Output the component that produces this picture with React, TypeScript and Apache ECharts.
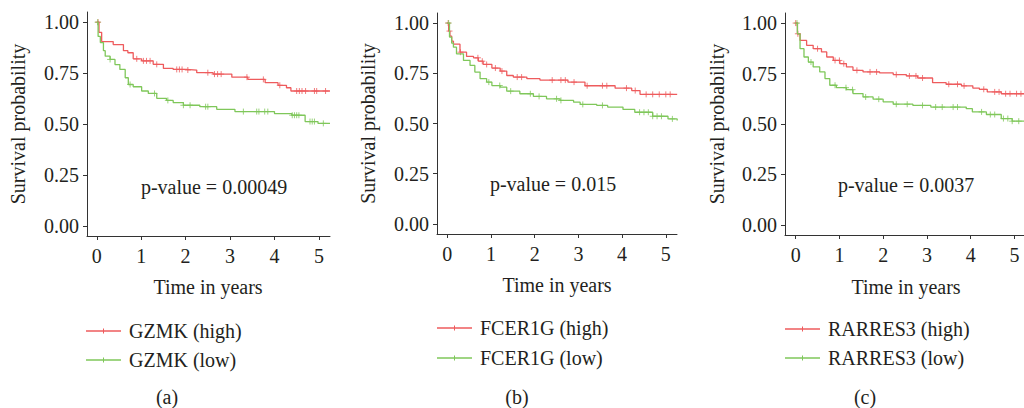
import React, { useEffect, useRef } from "react";
import * as echarts from "echarts";

// ---- Data ----
const panelLabels = ["(a)", "(b)", "(c)"];
const genes = ["GZMK", "FCER1G", "RARRES3"];
const pValues = ["p-value = 0.00049", "p-value = 0.015", "p-value = 0.0037"];
const xTicks = [0, 1, 2, 3, 4, 5];
const yTicks = [0, 0.25, 0.5, 0.75, 1];

// Panel (a) GZMK
const aHighT = [0, 0.05, 0.11, 0.37, 0.6, 0.7, 0.82, 1.01, 1.27, 1.5, 1.72, 2.02, 2.25, 2.62, 3.04, 3.4, 3.79, 4.08, 4.27, 4.37, 5.25];
const aHighS = [1.0, 0.95, 0.905, 0.89, 0.86, 0.85, 0.82, 0.81, 0.793, 0.773, 0.768, 0.765, 0.752, 0.745, 0.73, 0.719, 0.703, 0.69, 0.678, 0.662, 0.662];
const aLowT = [0, 0.03, 0.08, 0.15, 0.19, 0.3, 0.41, 0.52, 0.64, 0.71, 0.82, 1.01, 1.16, 1.35, 1.57, 1.72, 1.95, 2.32, 2.7, 3.11, 4.0, 4.39, 4.69, 4.98, 5.25];
const aLowS = [1.0, 0.93, 0.9, 0.86, 0.833, 0.817, 0.792, 0.768, 0.727, 0.694, 0.683, 0.662, 0.65, 0.626, 0.616, 0.605, 0.592, 0.585, 0.572, 0.561, 0.551, 0.543, 0.512, 0.503, 0.503];
const aHighCens = [0.03, 0.9, 1.05, 1.12, 1.2, 1.35, 1.8, 1.86, 1.92, 2.05, 2.5, 2.65, 2.72, 2.8, 3.38, 3.75, 4.12, 4.5, 4.56, 4.62, 4.7, 4.9, 4.95, 5.15];
const aLowCens = [0.02, 0.3, 0.75, 1.3, 1.6, 1.95, 2.1, 2.45, 2.5, 3.3, 3.6, 3.65, 3.78, 3.85, 4.4, 4.45, 4.5, 4.55, 4.8, 4.85, 4.9, 5.1];

// Panel (b) FCER1G
const bHighT = [0, 0.03, 0.06, 0.1, 0.14, 0.29, 0.44, 0.6, 0.71, 0.82, 1.02, 1.21, 1.36, 1.51, 1.82, 2.12, 2.76, 3.15, 3.84, 4.22, 4.41, 5.26];
const bHighS = [1.0, 0.96, 0.935, 0.91, 0.895, 0.855, 0.834, 0.827, 0.81, 0.794, 0.776, 0.761, 0.739, 0.731, 0.723, 0.716, 0.706, 0.688, 0.676, 0.664, 0.645, 0.645];
const bLowT = [0, 0.05, 0.1, 0.14, 0.21, 0.37, 0.52, 0.63, 0.75, 0.9, 1.02, 1.21, 1.36, 1.66, 1.97, 2.27, 2.58, 2.89, 3.04, 3.42, 3.67, 4.02, 4.29, 4.7, 5.05, 5.26];
const bLowS = [1.0, 0.93, 0.9, 0.88, 0.847, 0.814, 0.789, 0.756, 0.723, 0.706, 0.689, 0.681, 0.661, 0.648, 0.635, 0.623, 0.615, 0.606, 0.595, 0.59, 0.582, 0.57, 0.556, 0.536, 0.523, 0.515];
const bHighCens = [0.02, 0.05, 0.3, 0.7, 0.8, 0.9, 1.1, 1.25, 1.6, 1.7, 2.4, 2.6, 2.7, 2.9, 3.2, 3.55, 3.65, 4.1, 4.3, 4.55, 4.7, 4.85, 5.0, 5.1];
const bLowCens = [0.03, 0.95, 1.2, 1.45, 1.9, 2.1, 2.5, 2.6, 3.1, 3.55, 4.4, 4.5, 4.6, 4.7, 4.8, 4.9, 5.15];

// Panel (c) RARRES3
const cHighT = [0, 0.04, 0.1, 0.25, 0.4, 0.59, 0.71, 0.86, 1.01, 1.16, 1.31, 1.54, 1.92, 2.23, 2.53, 2.79, 3.13, 3.44, 3.79, 4.05, 4.2, 4.38, 4.7, 5.22];
const cHighS = [1.0, 0.947, 0.914, 0.89, 0.873, 0.857, 0.832, 0.815, 0.799, 0.783, 0.766, 0.758, 0.753, 0.745, 0.738, 0.728, 0.705, 0.697, 0.689, 0.678, 0.672, 0.659, 0.65, 0.648];
const cLowT = [0, 0.04, 0.1, 0.19, 0.29, 0.4, 0.55, 0.67, 0.78, 0.93, 1.16, 1.31, 1.54, 1.77, 2.0, 2.23, 2.68, 3.09, 3.9, 4.04, 4.36, 4.7, 4.95, 5.22];
const cLowS = [1.0, 0.947, 0.873, 0.832, 0.807, 0.783, 0.758, 0.725, 0.692, 0.68, 0.67, 0.651, 0.634, 0.623, 0.61, 0.598, 0.592, 0.584, 0.576, 0.56, 0.547, 0.527, 0.514, 0.514];
const cHighCens = [0.0, 0.05, 0.5, 0.9, 1.0, 1.1, 1.4, 1.7, 1.85, 2.3, 2.6, 2.75, 2.9, 3.5, 3.7, 3.85, 4.3, 4.55, 4.65, 4.8, 4.9, 5.05, 5.15];
const cLowCens = [0.03, 0.35, 0.9, 1.15, 1.3, 1.6, 1.9, 2.3, 2.55, 2.9, 3.2, 3.35, 3.6, 3.7, 4.25, 4.45, 4.55, 4.75, 4.85, 4.95, 5.1];

const RED = "#EE5B5D";
const GREEN = "#7FC75A";
const TEXT = "#231F20";
const FONT = "Liberation Serif";

// ---- Layout ----
const grids = [
  { left: 87, top: 12, width: 243, height: 224, xMin: -0.22, xMax: 5.25 },
  { left: 437, top: 13, width: 240, height: 221, xMin: -0.236, xMax: 5.256 },
  { left: 785, top: 13, width: 240, height: 222, xMin: -0.244, xMax: 5.22 },
];
const yTitleX = [17.5, 368, 717];
const xTitlePos = [[208, 287], [557, 285], [906, 287]];
const pPos = [[214, 187], [553, 184], [906, 185]];
const legendX = [86, 437, 785];
const legendY = [[331, 360], [328, 358], [329, 358]];
const capPos = [[167, 397], [517, 397], [865, 397]];

const curves = [
  { hT: aHighT, hS: aHighS, lT: aLowT, lS: aLowS, hC: aHighCens, lC: aLowCens },
  { hT: bHighT, hS: bHighS, lT: bLowT, lS: bLowS, hC: bHighCens, lC: bLowCens },
  { hT: cHighT, hS: cHighS, lT: cLowT, lS: cLowS, hC: cHighCens, lC: cLowCens },
];

function stepAt(ts: number[], ss: number[], t: number): number {
  let v = ss[0];
  for (let i = 0; i < ts.length; i++) {
    if (ts[i] <= t) v = ss[i];
    else break;
  }
  return v;
}

const PLUS = "path://M0,4L8,4M4,0L4,8";

export default function App() {
  const ref = useRef<HTMLDivElement>(null);
  useEffect(() => {
    if (!ref.current) return;
    const chart = echarts.init(ref.current, undefined, { renderer: "svg" });
    const series: any[] = [];
    const xAxis: any[] = [];
    const yAxis: any[] = [];
    const graphic: any[] = [];

    grids.forEach((g, i) => {
      xAxis.push({
        type: "value",
        gridIndex: i,
        min: g.xMin,
        max: g.xMax,
        splitLine: { show: false },
        axisLine: { show: true, onZero: false, lineStyle: { color: "#333", width: 1 } },
        axisTick: { show: true, customValues: xTicks, length: 4, lineStyle: { color: "#333" } },
        axisLabel: { customValues: xTicks, fontSize: 20, color: TEXT, fontFamily: FONT, margin: 10 },
      });
      yAxis.push({
        type: "value",
        gridIndex: i,
        min: -0.05,
        max: 1.05,
        splitLine: { show: false },
        axisLine: { show: true, onZero: false, lineStyle: { color: "#333", width: 1 } },
        axisTick: { show: true, customValues: yTicks, length: 4, lineStyle: { color: "#333" } },
        axisLabel: {
          customValues: yTicks,
          fontSize: 20,
          color: TEXT,
          fontFamily: FONT,
          margin: 8,
          formatter: (v: number) => v.toFixed(2),
        },
      });
      const c = curves[i];
      const mk = (ts: number[], ss: number[], color: string, name: string) => ({
        type: "line",
        name,
        xAxisIndex: i,
        yAxisIndex: i,
        step: "end",
        showSymbol: false,
        symbol: "none",
        lineStyle: { color, width: 1.3 },
        data: ts.map((t, k) => [t, ss[k]]),
        silent: true,
      });
      const cens = (cs: number[], ts: number[], ss: number[], color: string) => ({
        type: "scatter",
        xAxisIndex: i,
        yAxisIndex: i,
        symbol: PLUS,
        symbolSize: 6,
        itemStyle: { color: "none", borderColor: color, borderWidth: 1 },
        data: cs.map((t) => [t, stepAt(ts, ss, t)]),
        silent: true,
      });
      series.push(mk(c.hT, c.hS, RED, genes[i] + " (high)"));
      series.push(mk(c.lT, c.lS, GREEN, genes[i] + " (low)"));
      series.push(cens(c.hC, c.hT, c.hS, RED));
      series.push(cens(c.lC, c.lT, c.lS, GREEN));

      // Titles
      graphic.push({
        type: "text",
        x: yTitleX[i],
        y: g.top + g.height / 2,
        rotation: Math.PI / 2,
        style: { text: "Survival probability", font: `20px "${FONT}"`, fill: TEXT, align: "center", verticalAlign: "middle" },
      });
      graphic.push({
        type: "text",
        x: xTitlePos[i][0],
        y: xTitlePos[i][1],
        style: { text: "Time in years", font: `20px "${FONT}"`, fill: TEXT, align: "center", verticalAlign: "middle" },
      });
      graphic.push({
        type: "text",
        x: pPos[i][0],
        y: pPos[i][1],
        style: { text: pValues[i], font: `20px "${FONT}"`, fill: TEXT, align: "center", verticalAlign: "middle" },
      });
      // Legend
      const lx = legendX[i];
      [[RED, " (high)"], [GREEN, " (low)"]].forEach(([col, suf], k) => {
        const ly = legendY[i][k];
        graphic.push({ type: "line", shape: { x1: lx, y1: ly, x2: lx + 35, y2: ly }, style: { stroke: col, lineWidth: 1.3 } });
        graphic.push({ type: "line", shape: { x1: lx + 17.5, y1: ly - 2.5, x2: lx + 17.5, y2: ly + 2.5 }, style: { stroke: col, lineWidth: 1 } });
        graphic.push({
          type: "text",
          x: lx + 43,
          y: ly,
          style: { text: genes[i] + suf, font: `20px "${FONT}"`, fill: TEXT, align: "left", verticalAlign: "middle" },
        });
      });
      graphic.push({
        type: "text",
        x: capPos[i][0],
        y: capPos[i][1],
        style: { text: panelLabels[i], font: `20px "${FONT}"`, fill: TEXT, align: "center", verticalAlign: "middle" },
      });
    });

    chart.setOption({
      animation: false,
      backgroundColor: "#ffffff",
      textStyle: { fontFamily: FONT },
      grid: grids.map((g) => ({ left: g.left, top: g.top, width: g.width, height: g.height, containLabel: false })),
      xAxis,
      yAxis,
      series,
      graphic,
    });
    return () => chart.dispose();
  }, []);
  return <div ref={ref} style={{ position: "fixed", left: 0, top: 0, width: 1024, height: 408 }} />;
}
